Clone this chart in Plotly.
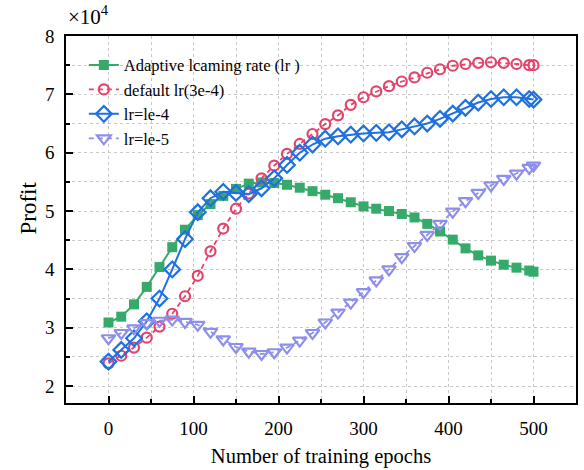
import plotly.graph_objects as go

# Training epochs at which profit was logged
epochs = list(range(0, 496, 15)) + [500]

# Profit per run, in units of 10^4
profit_adaptive = [3.09, 3.19, 3.40, 3.70, 4.04, 4.38, 4.68, 4.93, 5.12, 5.26, 5.38,
                   5.47, 5.49, 5.48, 5.45, 5.40, 5.34, 5.28, 5.22, 5.15, 5.08, 5.04,
                   5.00, 4.95, 4.89, 4.78, 4.65, 4.51, 4.36, 4.24, 4.15, 4.08, 4.03,
                   3.98, 3.96]
profit_default = [2.39, 2.52, 2.66, 2.83, 3.02, 3.24, 3.54, 3.89, 4.31, 4.70, 5.04,
                  5.30, 5.56, 5.78, 5.98, 6.15, 6.32, 6.49, 6.64, 6.82, 6.95, 7.05,
                  7.14, 7.22, 7.29, 7.37, 7.43, 7.49, 7.52, 7.54, 7.55, 7.54, 7.52,
                  7.50, 7.50]
profit_1e4 = [2.42, 2.62, 2.82, 3.11, 3.50, 4.00, 4.52, 4.98, 5.22, 5.33, 5.31,
              5.29, 5.39, 5.56, 5.79, 6.00, 6.14, 6.24, 6.28, 6.31, 6.33, 6.34,
              6.35, 6.40, 6.45, 6.50, 6.58, 6.67, 6.77, 6.86, 6.92, 6.95, 6.95,
              6.92, 6.91]
profit_1e5 = [2.82, 2.91, 2.99, 3.08, 3.12, 3.14, 3.10, 3.05, 2.93, 2.80, 2.67,
              2.59, 2.55, 2.58, 2.66, 2.78, 2.91, 3.09, 3.26, 3.43, 3.61, 3.81,
              4.00, 4.21, 4.40, 4.59, 4.78, 4.99, 5.17, 5.31, 5.44, 5.55, 5.64,
              5.74, 5.78]

series_names = ["Adaptive lcaming rate (lr )", "default lr(3e-4)", "lr=le-4", "lr=le-5"]
x_ticks = [0, 100, 200, 300, 400, 500]
y_ticks = [2, 3, 4, 5, 6, 7, 8]

FONT = "Liberation Serif, Times New Roman, serif"
GREEN = "#36AA6A"
RED = "#E3446C"
BLUE = "#1F70E0"
PURPLE = "#8E8EEB"

fig = go.Figure()

fig.add_trace(go.Scatter(
    x=epochs, y=profit_adaptive, name=series_names[0], mode="lines+markers",
    line=dict(color=GREEN, width=2),
    marker=dict(symbol="square", size=10, color=GREEN),
))
fig.add_trace(go.Scatter(
    x=epochs, y=profit_default, name=series_names[1], mode="lines+markers",
    line=dict(color=RED, width=1.8, dash="5px,4px"),
    marker=dict(symbol="circle-open", size=10, color=RED, line=dict(width=2.2, color=RED)),
))
fig.add_trace(go.Scatter(
    x=epochs, y=profit_1e4, name=series_names[2], mode="lines+markers",
    line=dict(color=BLUE, width=2),
    marker=dict(symbol="diamond-open", size=12, color=BLUE, line=dict(width=2.2, color=BLUE)),
))
fig.add_trace(go.Scatter(
    x=epochs, y=profit_1e5, name=series_names[3], mode="lines+markers",
    line=dict(color=PURPLE, width=1.8, dash="5px,4px"),
    marker=dict(symbol="triangle-down-open", size=12, color=PURPLE, line=dict(width=2.2, color=PURPLE)),
))

axis_common = dict(
    showline=True, linecolor="black", linewidth=1.5, mirror=True,
    ticks="inside", tickcolor="black", tickwidth=1.5, ticklen=7,
    showgrid=True, gridcolor="#C8C8C8", gridwidth=1, griddash="dot",
    zeroline=False,
    tickfont=dict(family=FONT, size=19, color="black"),
)

fig.update_xaxes(
    range=[-50, 550], tickvals=x_ticks,
    minor=dict(dtick=50, tick0=0, ticks="inside", ticklen=4, tickcolor="black", tickwidth=1.5,
               showgrid=True, gridcolor="#C8C8C8", gridwidth=1, griddash="dot"),
    ticklabelstandoff=7,
    title=dict(text="Number of training epochs", font=dict(family=FONT, size=20.5, color="black"), standoff=11),
    **axis_common,
)
fig.update_yaxes(
    range=[1.71, 8], tickvals=y_ticks,
    minor=dict(dtick=0.5, tick0=0, ticks="inside", ticklen=4, tickcolor="black", tickwidth=1.5,
               showgrid=True, gridcolor="#C8C8C8", gridwidth=1, griddash="dot"),
    ticklabelstandoff=6,
    **axis_common,
)

# y-axis title, placed by hand in the left margin
fig.add_annotation(
    text="Profit", xref="paper", yref="paper", x=0, xshift=-38, y=0.53,
    xanchor="center", yanchor="middle", textangle=-90, showarrow=False,
    font=dict(family=FONT, size=23, color="black"),
)

# axis multiplier above the y-axis
fig.add_annotation(
    text="×10<sup>4</sup>", xref="paper", yref="paper", x=0, y=1.0, yshift=21,
    xanchor="left", yanchor="middle", showarrow=False,
    font=dict(family=FONT, size=21, color="black"),
)

fig.update_layout(
    width=584, height=470,
    margin=dict(l=66, r=6, t=36, b=65),
    plot_bgcolor="white", paper_bgcolor="white",
    showlegend=True,
    legend=dict(
        x=0.035, y=0.968, xanchor="left", yanchor="top",
        bgcolor="rgba(0,0,0,0)", borderwidth=0, tracegroupgap=0,
        font=dict(family=FONT, size=16.5, color="black"),
    ),
)

fig.write_html("out.html")
